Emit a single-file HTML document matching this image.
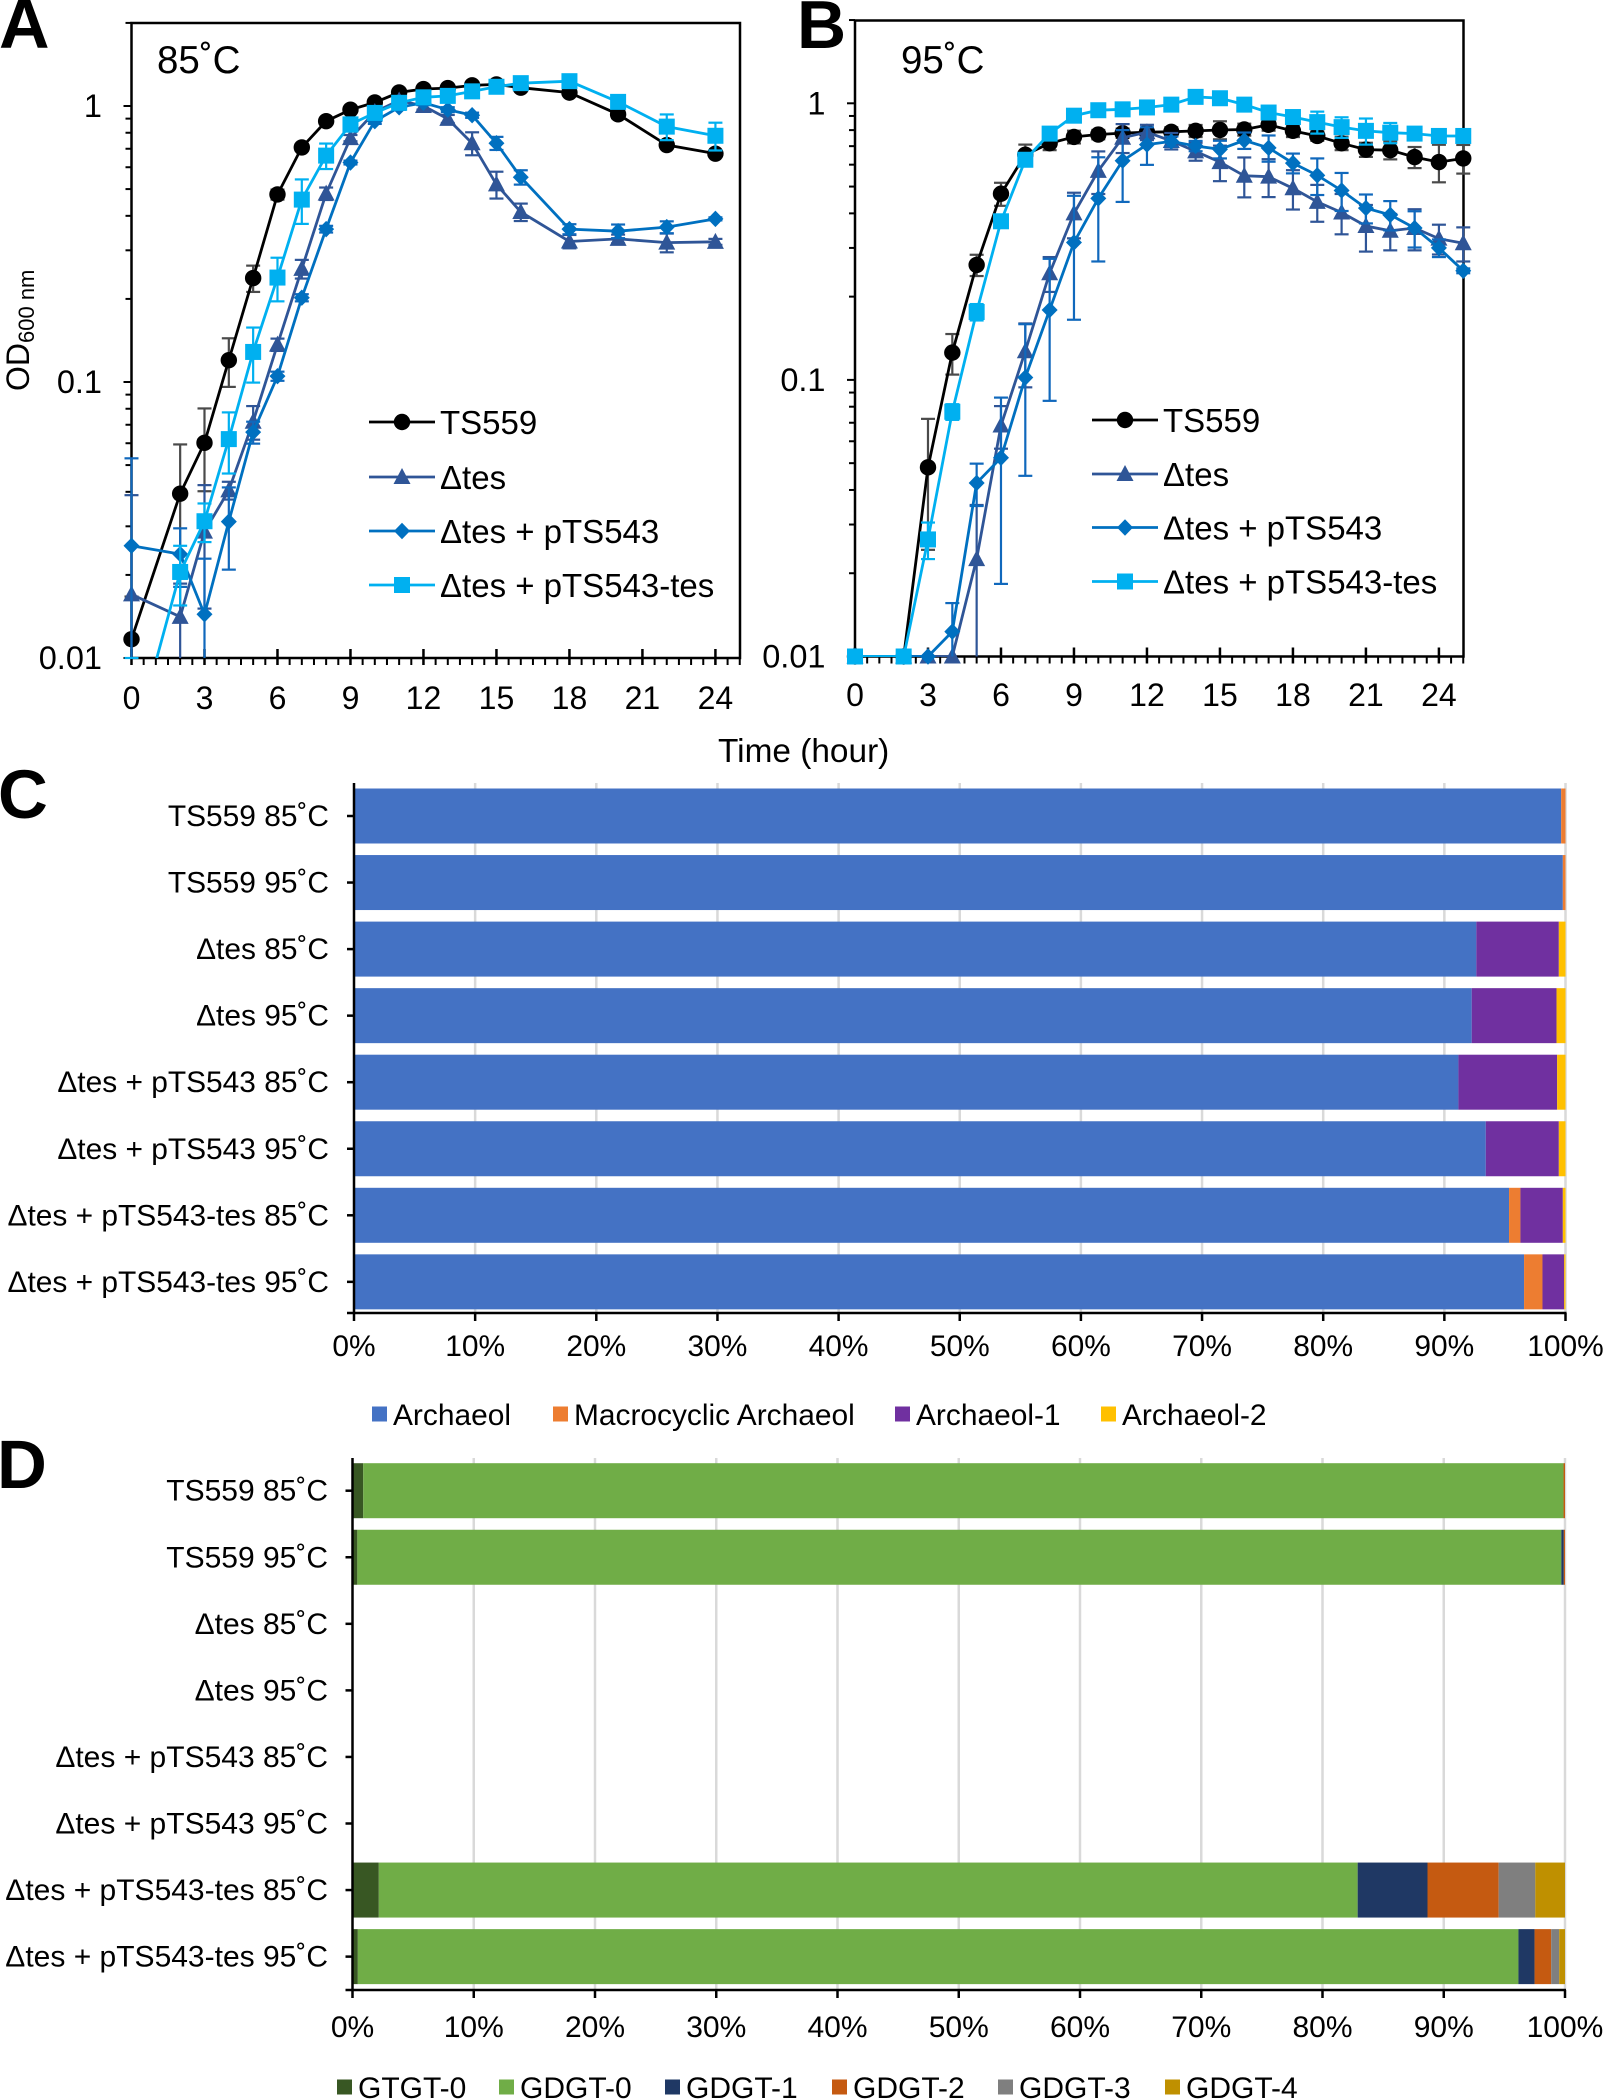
<!DOCTYPE html>
<html lang="en">
<head>
<meta charset="utf-8">
<title>Growth curves and lipid composition</title>
<style>
html,body{margin:0;padding:0;background:#fff;width:1604px;height:2100px;overflow:hidden}
svg{display:block}
text{font-family:"Liberation Sans",Arial,sans-serif;fill:#000}
</style>
</head>
<body>
<svg id="fig" xmlns="http://www.w3.org/2000/svg" width="1604" height="2100" viewBox="0 0 1604 2100">
<rect width="1604" height="2100" fill="#fff"/>
<defs>
<clipPath id="clipA"><rect x="131" y="23" width="609" height="635"/></clipPath>
<clipPath id="clipB"><rect x="855" y="20" width="609" height="637"/></clipPath>
</defs>
<text x="-1" y="48" font-size="70" font-weight="bold">A</text>
<text x="797" y="48" font-size="68" font-weight="bold">B</text>
<text x="-2" y="818" font-size="69" font-weight="bold">C</text>
<text x="-3" y="1488" font-size="69" font-weight="bold">D</text>
<text x="157" y="73" font-size="38.5">85˚C</text>
<text x="901" y="73" font-size="38.5">95˚C</text>
<text transform="translate(29,391) rotate(-90)" font-size="32">OD<tspan font-size="22" dy="5">600 nm</tspan></text>
<text x="718" y="762" font-size="33.4">Time (hour)</text>
<g id="layer"></g>
</svg>
<script>
// Panel A values
const hoursA = [0,2,3,4,5,6,7,8,9,10,11,12,13,14,15,16,18,20,22,24];
const ts559A = [.0117,.0394,.0602,.120,.238,.478,.708,.881,.970,1.03,1.12,1.152,1.161,1.188,1.197,1.165,1.118,.933,.722,.672];
const ts559ErrA = [.005,.02,.02,.024,.026,.02,.02,.02,.02,.02,.02,.02,.02,.02,.02,.02,.02,.03,.01,.01];
const tesA = [.017,.0141,.0287,.0405,.0718,.1366,.257,.4815,.765,.951,1.047,1.0,.898,.733,.52,.413,.323,.33,.32,.322];
const tesErrA = [.0219,.0045,.0136,.003,.01,.007,.02,.025,.02,.03,.03,.03,.03,.07,.058,.03,.018,.012,.025,.008];
const ptsA = [.0255,.0238,.0144,.0312,.0658,.105,.202,.358,.624,.881,.989,1.027,.97,.926,.733,.552,.358,.352,.364,.39];
const ptsErrA = [.0274,.0057,.0085,.0103,.006,.004,.006,.01,.01,.02,.02,.02,.02,.02,.04,.033,.015,.02,.018,.005];
const ptsTesA = [.0046,.0205,.0313,.0621,.1285,.239,.458,.661,.858,.944,1.027,1.075,1.088,1.13,1.174,1.21,1.23,1.035,.842,.78];
const ptsTesErrA = [.0054,.005,.005,.0155,.029,.043,.084,.07,.05,.03,.03,.03,.03,.03,.03,.03,.03,.05,.09,.09];
// Panel B values
const hoursB = [0,2,3,4,5,6,7,8,9,10,11,12,13,14,15,16,17,18,19,20,21,22,23,24,25];
const ts559B = [.01,.01,.0483,.1255,.2604,.471,.652,.717,.756,.771,.78,.786,.789,.795,.801,.804,.836,.795,.762,.717,.68,.677,.639,.613,.632];
const ts559ErrB = [0,0,.024,.021,.023,.045,.057,.04,.04,.03,.03,.03,.03,.04,.06,.04,.04,.04,.03,.04,.04,.05,.056,.095,.075];
const tesB = [.01,.01,.01,.01,.0225,.0684,.127,.243,.4,.57,.751,.786,.731,.67,.613,.547,.543,.493,.44,.403,.36,.346,.354,.324,.312];
const tesErrB = [0,0,0,0,.0128,.012,.033,.035,.075,.1,.09,.05,.05,.05,.09,.09,.085,.08,.067,.067,.069,.052,.06,.04,.044];
const ptsB = [.01,.01,.01,.0123,.0424,.0523,.102,.179,.314,.453,.62,.709,.728,.701,.682,.734,.69,.608,.549,.484,.418,.395,.354,.3,.248];
const ptsErrB = [0,0,0,.0033,.0074,.034,.057,.095,.149,.185,.18,.11,.03,.03,.05,.05,.075,.05,.083,.076,.05,.048,.053,.022,.005];
const ptsTesB = [.01,.01,.0265,.0767,.176,.3745,.625,.777,.902,.944,.951,.966,.989,1.055,1.043,.989,.926,.892,.855,.82,.795,.783,.777,.762,.762];
const ptsTesErrB = [0,0,.004,.005,.012,.02,.02,.03,.02,.02,.02,.02,.02,.02,.02,.02,.02,.03,.078,.07,.086,.066,.03,.02,.02];
// Shared labels
const seriesNames = ["TS559","Δtes","Δtes + pTS543","Δtes + pTS543-tes"];
const hourTicks = [0,3,6,9,12,15,18,21,24];
const odTicks = [1,0.1,0.01];
const categories = ["TS559 85˚C","TS559 95˚C","Δtes 85˚C","Δtes 95˚C","Δtes + pTS543 85˚C","Δtes + pTS543 95˚C","Δtes + pTS543-tes 85˚C","Δtes + pTS543-tes 95˚C"];
const pctTicks = [0,10,20,30,40,50,60,70,80,90,100];
// Panel C values (% of row)
const archaeol = [99.64,99.78,92.64,92.26,91.16,93.42,95.34,96.58];
const macrocyclic = [.36,.22,0,0,0,0,.94,1.52];
const archaeol1 = [0,0,6.81,7.0,8.15,6.03,3.5,1.79];
const archaeol2 = [0,0,.55,.74,.69,.55,.22,.11];
const lipidNamesC = ["Archaeol","Macrocyclic Archaeol","Archaeol-1","Archaeol-2"];
// Panel D values (% of row)
const gtgt0 = [.88,.4,0,0,0,0,2.17,.44];
const gdgt0 = [99.0,99.3,0,0,0,0,80.73,95.72];
const gdgt1 = [0,.2,0,0,0,0,5.76,1.33];
const gdgt2 = [.12,.1,0,0,0,0,5.87,1.37];
const gdgt3 = [0,0,0,0,0,0,3.02,.66];
const gdgt4 = [0,0,0,0,0,0,2.45,.48];
const lipidNamesD = ["GTGT-0","GDGT-0","GDGT-1","GDGT-2","GDGT-3","GDGT-4"];

const NS = "http://www.w3.org/2000/svg";
const layer = document.getElementById("layer");
function make(tag, attrs, parent) {
  const n = document.createElementNS(NS, tag);
  for (const k in attrs) n.setAttribute(k, attrs[k]);
  (parent || layer).appendChild(n);
  return n;
}
function slug(s) {
  return s.toLowerCase().replace(/Δ/g, "delta-").replace(/[^a-z0-9-]+/g, "-").replace(/-+/g, "-");
}
function tickLine(x1, y1, x2, y2, name, w, parent) {
  const t = make("line", {x1, y1, x2, y2, stroke: "#000", "stroke-width": w}, parent);
  
  
  return t;
}
function label(x, y, str, size, anchor, name, parent) {
  const t = make("text", {x, y, "font-size": size, "text-anchor": anchor}, parent);
  t.textContent = str;
  
  
  return t;
}
function marker(kind, cx, cy, color, parent) {
  let m;
  if (kind === "circle") m = make("circle", {cx, cy, r: 8.2, fill: color}, parent);
  else if (kind === "square") m = make("rect", {x: cx - 8, y: cy - 8, width: 16, height: 16, fill: color}, parent);
  else if (kind === "triangle") m = make("polygon", {points: `${cx},${cy - 9} ${cx + 8.5},${cy + 7} ${cx - 8.5},${cy + 7}`, fill: color}, parent);
  else m = make("polygon", {points: `${cx},${cy - 8.2} ${cx + 8},${cy} ${cx},${cy + 8.2} ${cx - 8},${cy}`, fill: color}, parent);
  
  
  return m;
}

const styles = [
  {color: "#000000", err: "#4a4a4a", kind: "circle"},
  {color: "#2F5597", err: "#2F5597", kind: "triangle"},
  {color: "#0070C0", err: "#1068BC", kind: "diamond"},
  {color: "#00B0F0", err: "#00B0F0", kind: "square"}
];

function growthPanel(p) {
  const xAt = h => p.left + h * p.perHour;
  const yAt = v => p.bottom - (Math.log10(v) + 2) * p.decade;
  const g = make("g", {});
  
  
  // frame
  const frame = make("rect", {x: p.left, y: p.top, width: p.right - p.left, height: p.bottom - p.top, fill: "none", stroke: "#000", "stroke-width": 2.5}, g);
  
  
  // y ticks
  for (let d = -2; d <= 0; d++) {
    for (let m = 1; m <= 9; m++) {
      const v = m * Math.pow(10, d);
      if (v > 2.001) continue;
      tickLine(p.left - (m === 1 ? 8 : 6), yAt(v), p.left, yAt(v), 'y-tick', 2, g);
    }
  }
  odTicks.forEach(v => {
    label(p.yLabelRight, yAt(v) + 11, String(v), 32.5, "end", 'y-tick-label', g);
  });
  // x ticks
  for (let h = 0; h <= 25; h += 0.5) {
    tickLine(xAt(h), p.bottom, xAt(h), p.bottom + 7, 'x-minor-tick', 2, g);
  }
  hourTicks.forEach(h => {
    tickLine(xAt(h), p.bottom - 9, xAt(h), p.bottom + 7, 'x-major-tick', 2.5, g);
    label(xAt(h), p.xLabelY, String(h), 32, "middle", 'x-tick-label', g);
  });
  // series
  p.series.forEach((vals, s) => {
    const st = styles[s];
    const sg = make("g", {}, g);
    
    
    vals.forEach((v, i) => {
      const e = p.errs[s][i];
      if (!e) return;
      const x = xAt(p.hours[i]);
      const up = v + e, lo = v - e;
      const yUp = yAt(up);
      const low = lo > 0.01;
      const yLo = low ? yAt(lo) : p.bottom;
      const bar = make("line", {x1: x, y1: yUp, x2: x, y2: yLo, stroke: st.err, "stroke-width": 2.2}, sg);
      
      
      const cap1 = make("line", {x1: x - 7, y1: yUp, x2: x + 7, y2: yUp, stroke: st.err, "stroke-width": 2.2}, sg);
      
      
      if (low) {
        const cap2 = make("line", {x1: x - 7, y1: yLo, x2: x + 7, y2: yLo, stroke: st.err, "stroke-width": 2.2}, sg);
        
        
      }
    });
    const pts = vals.map((v, i) => xAt(p.hours[i]).toFixed(1) + "," + yAt(v).toFixed(1)).join(" ");
    const line = make("polyline", {points: pts, fill: "none", stroke: st.color, "stroke-width": 2.8, "clip-path": "url(#" + p.clip + ")"}, sg);
    
    
    vals.forEach((v, i) => {
      if (v < 0.00999) return;
      marker(st.kind, xAt(p.hours[i]), yAt(v), st.color, sg);
    });
  });
  // legend
  seriesNames.forEach((name, s) => {
    const st = styles[s];
    const y = p.legendY[s];
    const lg = make("g", {}, g);
    
    
    const sw = make("line", {x1: p.legendX, y1: y, x2: p.legendX + 66, y2: y, stroke: st.color, "stroke-width": 2.8}, lg);
    
    
    marker(st.kind, p.legendX + 33, y, st.color, lg);
    label(p.legendX + 71, y + 12, name, 33, "start", 'legend-label', lg);
  });
}

growthPanel({
  id: "a", clip: "clipA", left: 131.5, right: 740, top: 23, bottom: 658, decade: 276, perHour: 24.33,
  yLabelRight: 102, xLabelY: 709, legendX: 369, legendY: [422, 477, 531, 585],
  hours: hoursA,
  series: [ts559A, tesA, ptsA, ptsTesA],
  errs: [ts559ErrA, tesErrA, ptsErrA, ptsTesErrA]
});
growthPanel({
  id: "b", clip: "clipB", left: 855, right: 1463.5, top: 20.5, bottom: 656.5, decade: 276.6, perHour: 24.33,
  yLabelRight: 825.5, xLabelY: 706, legendX: 1092, legendY: [420, 474, 527.5, 581.5],
  hours: hoursB,
  series: [ts559B, tesB, ptsB, ptsTesB],
  errs: [ts559ErrB, tesErrB, ptsErrB, ptsTesErrB]
});

function barPanel(p) {
  const xAt = v => p.x0 + v / 100 * (p.x100 - p.x0);
  const yAt = i => p.firstCenter + i * p.band;
  const g = make("g", {});
  
  
  pctTicks.forEach(t => {
    if (t === 0) return;
    const gl = make("line", {x1: xAt(t), y1: p.top, x2: xAt(t), y2: p.axisY, stroke: "#d9d9d9", "stroke-width": 2.5}, g);
    
    
  });
  categories.forEach((c, i) => {
    let acc = 0;
    p.series.forEach((vals, s) => {
      const v = vals[i];
      if (v > 0) {
        const r = make("rect", {x: xAt(acc), y: yAt(i) - p.barH / 2, width: xAt(acc + v) - xAt(acc), height: p.barH, fill: p.colors[s]}, g);
        
        
      }
      acc += v;
    });
    tickLine(p.x0 - 7, yAt(i), p.x0, yAt(i), 'y-tick', 2.5, g);
    label(p.labelRight, yAt(i) + 10, c, p.font, "end", 'category-label', g);
  });
  tickLine(p.x0, p.top, p.x0, p.axisY, 'y-axis-line', 2.5, g);
  tickLine(p.x0 - 7, p.axisY, p.x100 + 1, p.axisY, 'x-axis-line', 2.5, g);
  pctTicks.forEach(t => {
    tickLine(xAt(t), p.axisY, xAt(t), p.axisY + 8, 'x-tick', 2.5, g);
    label(xAt(t), p.tickLabelY, t + "%", p.font, "middle", 'x-tick-label', g);
  });
  p.names.forEach((n, s) => {
    const lg = make("g", {}, g);
    
    
    const sq = make("rect", {x: p.legendSwatchX[s], y: p.legendY - 7.5, width: 15, height: 15, fill: p.colors[s]}, lg);
    
    
    label(p.legendSwatchX[s] + 21, p.legendY + 11, n, p.font, "start", 'legend-label', lg);
  });
}

barPanel({
  id: "c", x0: 354, x100: 1565.5, top: 783, axisY: 1313, firstCenter: 816, band: 66.55, barH: 55,
  labelRight: 329, tickLabelY: 1356, font: 29.9, legendY: 1414,
  names: lipidNamesC,
  series: [archaeol, macrocyclic, archaeol1, archaeol2],
  colors: ["#4472C4", "#ED7D31", "#7030A0", "#FFC000"],
  legendSwatchX: [372, 553, 895, 1101]
});
barPanel({
  id: "d", x0: 352.5, x100: 1565, top: 1458, axisY: 1990, firstCenter: 1490.7, band: 66.56, barH: 55,
  labelRight: 328, tickLabelY: 2037, font: 30, legendY: 2087,
  names: lipidNamesD,
  series: [gtgt0, gdgt0, gdgt1, gdgt2, gdgt3, gdgt4],
  colors: ["#385723", "#70AD47", "#1F3864", "#C55A11", "#7F7F7F", "#BF9000"],
  legendSwatchX: [337, 499, 665, 832, 998, 1165]
});
</script>
</body>
</html>
